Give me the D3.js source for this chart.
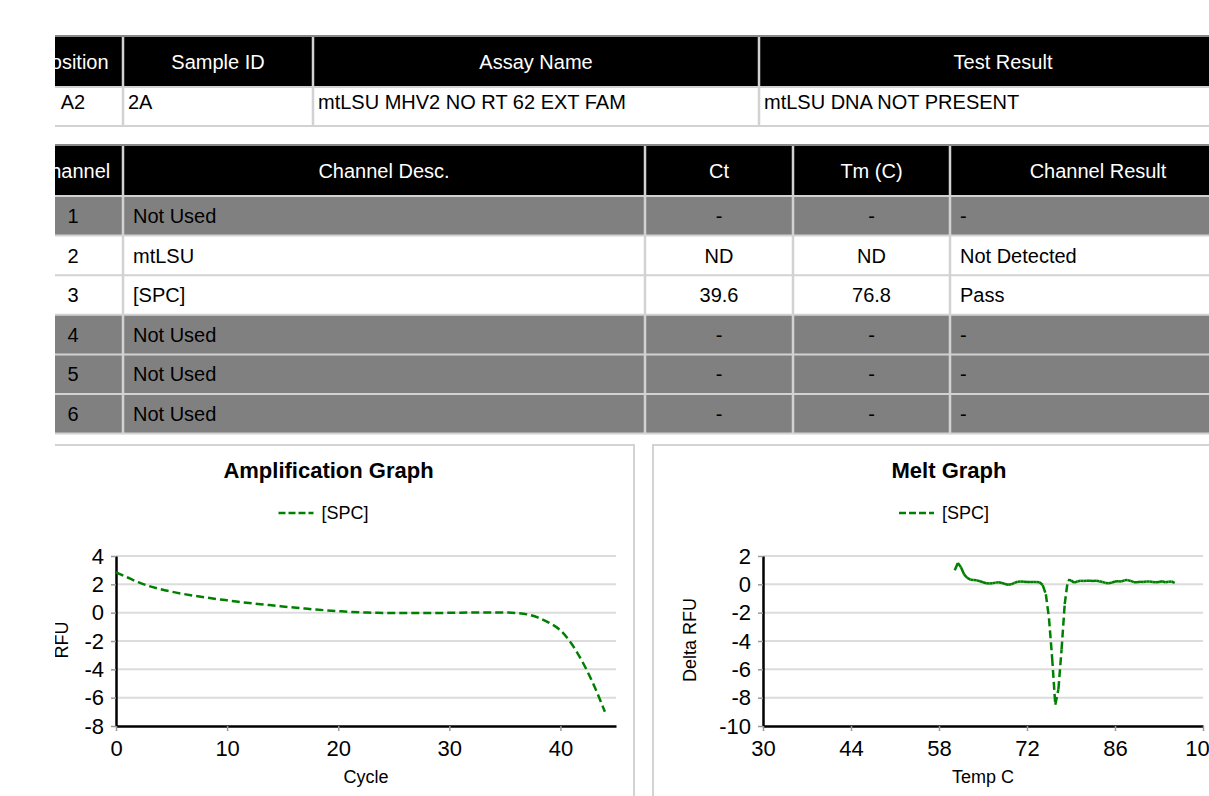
<!DOCTYPE html>
<html>
<head>
<meta charset="utf-8">
<script src="https://cdn.jsdelivr.net/npm/d3@7"></script>
<style>
	body { margin: 0; background: #fff; }
	svg { display: block; font-family: "Liberation Sans", Arial, sans-serif; }
</style>
</head>
<body>
<svg id="report" width="1209" height="796"></svg>
<script>
// sample table
var sampleHeaders = ['Position', 'Sample ID', 'Assay Name', 'Test Result'];
var sampleRow = ['A2', '2A', 'mtLSU MHV2 NO RT 62 EXT FAM', 'mtLSU DNA NOT PRESENT'];

// channel table
var channelHeaders = ['Channel', 'Channel Desc.', 'Ct', 'Tm (C)', 'Channel Result'];
var channelNumbers = ['1', '2', '3', '4', '5', '6'];
var channelDescs = ['Not Used', 'mtLSU', '[SPC]', 'Not Used', 'Not Used', 'Not Used'];
var channelCt = ['-', 'ND', '39.6', '-', '-', '-'];
var channelTm = ['-', 'ND', '76.8', '-', '-', '-'];
var channelResults = ['-', 'Not Detected', 'Pass', '-', '-', '-'];
var channelUsed = [false, true, true, false, false, false];

// amplification graph
var ampSeriesName = '[SPC]';
var ampCycles = [0, 1, 2, 3, 4, 5, 6, 7, 8, 9, 10, 11, 12, 13, 14, 15, 16, 17, 18, 19, 20, 21, 22,
	23, 24, 25, 26, 27, 28, 29, 30, 31, 32, 33, 34, 35, 36, 37, 38, 39, 40, 41, 42, 43, 44];
var ampRfu = [2.85, 2.5, 2.15, 1.87, 1.66, 1.48, 1.33, 1.2, 1.08, 0.97, 0.87, 0.77, 0.68, 0.6, 0.52,
	0.44, 0.36, 0.29, 0.22, 0.16, 0.11, 0.06, 0.02, 0, -0.02, -0.03, -0.03, -0.03, -0.03, -0.02, -0.01,
	0, 0.01, 0.02, 0.02, 0.02, -0.02, -0.12, -0.35, -0.72, -1.25, -2.2, -3.5, -5.1, -7.0];
var ampXTicks = [0, 10, 20, 30, 40];
var ampYTicks = [4, 2, 0, -2, -4, -6, -8];

// melt graph
var meltSeriesName = '[SPC]';
var meltTemps = [60.5, 61, 61.5, 62, 62.5, 63, 63.5, 64, 64.5, 65, 65.5, 66, 66.5, 67, 67.5, 68, 68.5,
	69, 69.5, 70, 70.5, 71, 71.5, 72, 72.5, 73, 73.5, 74, 74.5, 75, 75.5, 76, 76.5, 77, 77.5, 78, 78.5,
	79, 79.5, 80, 80.5, 81, 81.5, 82, 82.5, 83, 83.5, 84, 84.5, 85, 85.5, 86, 86.5, 87, 87.5, 88, 88.5,
	89, 89.5, 90, 90.5, 91, 91.5, 92, 92.5, 93, 93.5, 94, 94.5, 95, 95.5];
var meltDelta = [1.0, 1.5, 1.2, 0.7, 0.45, 0.33, 0.3, 0.28, 0.22, 0.15, 0.08, 0.06, 0.08, 0.12, 0.15,
	0.1, 0.02, -0.03, 0, 0.1, 0.18, 0.2, 0.18, 0.16, 0.17, 0.16, 0.17, 0.15, -0.05, -0.7, -2.4, -5.2,
	-8.5, -7.4, -4.6, -1.4, 0.3, 0.28, 0.12, 0.2, 0.25, 0.24, 0.26, 0.25, 0.24, 0.25, 0.22, 0.16, 0.1,
	0.08, 0.12, 0.2, 0.22, 0.2, 0.28, 0.3, 0.24, 0.15, 0.14, 0.18, 0.16, 0.2, 0.2, 0.17, 0.14, 0.16,
	0.22, 0.15, 0.18, 0.2, 0.1];
var meltXTicks = [30, 44, 58, 72, 86, 100];
var meltYTicks = [2, 0, -2, -4, -6, -8, -10];

var green = '#008000',
	gridColor = '#dcdcdc',
	sepColor = '#d2d2d2';

var svg = d3.select('#report');
svg.append('defs').append('clipPath').attr('id', 'page-clip')
	.append('rect').attr('x', 55).attr('y', 0).attr('width', 1154).attr('height', 796);
var page = svg.append('g').attr('clip-path', 'url(#page-clip)');

function drawTable(top, edges, headers, rows, opt) {
	var g = page.append('g'),
		left = edges[0], right = edges[edges.length - 1],
		headerH = 50, rowH = opt.rowH,
		bottom = top + headerH + rows.length * rowH;

	g.append('line').attr('x1', left).attr('x2', right).attr('y1', top).attr('y2', top)
		.attr('stroke', '#888').attr('stroke-width', 2);
	g.append('rect').attr('x', left).attr('y', top + 1).attr('width', right - left).attr('height', headerH)
		.attr('fill', '#000');

	g.selectAll('.row-bg').data(rows).enter().append('rect')
		.attr('x', left).attr('y', function(d, i) { return top + 1 + headerH + i * rowH; })
		.attr('width', right - left).attr('height', rowH)
		.attr('fill', function(d) { return d.shaded ? '#808080' : '#fff'; });

	// horizontal separators
	g.selectAll('.hsep').data(d3.range(rows.length + 1)).enter().append('line')
		.attr('x1', left).attr('x2', right)
		.attr('y1', function(i) { return top + 1 + headerH + i * rowH; })
		.attr('y2', function(i) { return top + 1 + headerH + i * rowH; })
		.attr('stroke', sepColor).attr('stroke-width', 2);

	// vertical separators
	g.selectAll('.vsep').data(edges.slice(1, -1)).enter().append('line')
		.attr('x1', function(d) { return d; }).attr('x2', function(d) { return d; })
		.attr('y1', top + 1).attr('y2', bottom + 1)
		.attr('stroke', sepColor).attr('stroke-width', 2.5);

	g.selectAll('.hdr').data(headers).enter().append('text')
		.attr('x', function(d, i) { return (edges[i] + edges[i + 1]) / 2; })
		.attr('y', top + 1 + headerH / 2 + 7)
		.attr('text-anchor', 'middle').attr('fill', '#fff').attr('font-size', 20)
		.text(function(d) { return d; });

	rows.forEach(function(row, r) {
		g.selectAll('.cell-' + r).data(row.cells).enter().append('text')
			.attr('x', function(d, i) {
				if (opt.center[i]) return (edges[i] + edges[i + 1]) / 2;
				return edges[i] + opt.pad;
			})
			.attr('y', top + 1 + headerH + r * rowH + opt.textY)
			.attr('text-anchor', function(d, i) { return opt.center[i] ? 'middle' : 'start'; })
			.attr('fill', '#000').attr('font-size', 20)
			.text(function(d) { return d; });
	});
}

drawTable(36, [23, 123, 313, 759, 1247], sampleHeaders,
	[{ cells: sampleRow, shaded: false }],
	{ rowH: 39, pad: 5, textY: 22, center: [true, false, false, false] });

drawTable(145, [23, 123, 645, 793, 950, 1246], channelHeaders,
	channelNumbers.map(function(n, i) {
		return { cells: [n, channelDescs[i], channelCt[i], channelTm[i], channelResults[i]], shaded: !channelUsed[i] };
	}),
	{ rowH: 39.6, pad: 10, textY: 27, center: [true, false, true, true, false] });

function drawGraph(cfg) {
	var g = page.append('g');
	var cx = cfg.panel[0] + cfg.panel[2] / 2;

	g.append('rect').attr('x', cfg.panel[0]).attr('y', cfg.panel[1])
		.attr('width', cfg.panel[2]).attr('height', cfg.panel[3])
		.attr('fill', 'none').attr('stroke', '#d3d3d3').attr('stroke-width', 2);

	g.append('text').attr('x', cx).attr('y', 478).attr('text-anchor', 'middle')
		.attr('font-size', 22).attr('font-weight', 'bold').text(cfg.title);

	// legend
	var lx = cx - 50;
	g.append('line').attr('x1', lx).attr('x2', lx + 35).attr('y1', 513).attr('y2', 513)
		.attr('stroke', green).attr('stroke-width', 2.5).attr('stroke-dasharray', '7,3');
	g.append('text').attr('x', lx + 43).attr('y', 519).attr('font-size', 18).text(cfg.series);

	var x = d3.scaleLinear().domain(cfg.xDomain).range(cfg.xRange),
		y = d3.scaleLinear().domain(cfg.yDomain).range([726, 556]);

	// grid
	g.selectAll('.grid').data(cfg.yTicks.slice(0, -1)).enter().append('line')
		.attr('x1', cfg.xRange[0]).attr('x2', cfg.xRange[1])
		.attr('y1', function(d) { return y(d); }).attr('y2', function(d) { return y(d); })
		.attr('stroke', gridColor).attr('stroke-width', 2);

	var plain = function(d) { return String(d); };
	var yAxis = g.append('g').attr('transform', 'translate(' + cfg.xRange[0] + ',0)')
		.call(d3.axisLeft(y).tickValues(cfg.yTicks).tickFormat(plain).tickSize(5).tickSizeOuter(0).tickPadding(7));
	var xAxis = g.append('g').attr('transform', 'translate(0,726)')
		.call(d3.axisBottom(x).tickValues(cfg.xTicks).tickFormat(plain).tickSize(5).tickSizeOuter(0).tickPadding(9));

	[xAxis, yAxis].forEach(function(a) {
		a.attr('font-family', null).attr('font-size', 22);
		a.select('.domain').attr('stroke', '#000').attr('stroke-width', 2.5);
		a.selectAll('.tick line').attr('stroke', '#999').attr('stroke-width', 1.5);
		a.selectAll('.tick text').attr('fill', '#000');
	});

	g.append('text').attr('x', (cfg.xRange[0] + cfg.xRange[1]) / 2).attr('y', 783)
		.attr('text-anchor', 'middle').attr('font-size', 18).text(cfg.xLabel);
	g.append('text').attr('transform', 'translate(' + cfg.yLabelX + ',640) rotate(-90)')
		.attr('text-anchor', 'middle').attr('font-size', 18).text(cfg.yLabel);

	var pts = cfg.xs.map(function(v, i) { return [v, cfg.ys[i]]; });
	if (cfg.segmented) {
		// each segment starts its dash pattern again, as the instrument software does
		g.selectAll('.seg').data(d3.pairs(pts)).enter().append('line')
			.attr('x1', function(d) { return x(d[0][0]); }).attr('y1', function(d) { return y(d[0][1]); })
			.attr('x2', function(d) { return x(d[1][0]); }).attr('y2', function(d) { return y(d[1][1]); })
			.attr('stroke', green).attr('stroke-width', 2.5).attr('stroke-dasharray', '8,4')
			.attr('stroke-linecap', 'butt');
	} else {
		var line = d3.line().x(function(d) { return x(d[0]); }).y(function(d) { return y(d[1]); })
			.curve(d3.curveMonotoneX);
		g.append('path').datum(pts).attr('d', line).attr('fill', 'none')
			.attr('stroke', green).attr('stroke-width', 2.5).attr('stroke-dasharray', '8,4');
	}
}

drawGraph({
	panel: [23, 445, 611, 400], title: 'Amplification Graph', series: ampSeriesName,
	xDomain: [0, 45], xRange: [116, 616], yDomain: [-8, 4],
	xTicks: ampXTicks, yTicks: ampYTicks, xs: ampCycles, ys: ampRfu,
	xLabel: 'Cycle', yLabel: 'RFU', yLabelX: 68, segmented: false
});

drawGraph({
	panel: [653, 445, 592, 400], title: 'Melt Graph', series: meltSeriesName,
	xDomain: [30, 100], xRange: [763, 1203], yDomain: [-10, 2],
	xTicks: meltXTicks, yTicks: meltYTicks, xs: meltTemps, ys: meltDelta,
	xLabel: 'Temp C', yLabel: 'Delta RFU', yLabelX: 696, segmented: true
});
</script>
</body>
</html>
